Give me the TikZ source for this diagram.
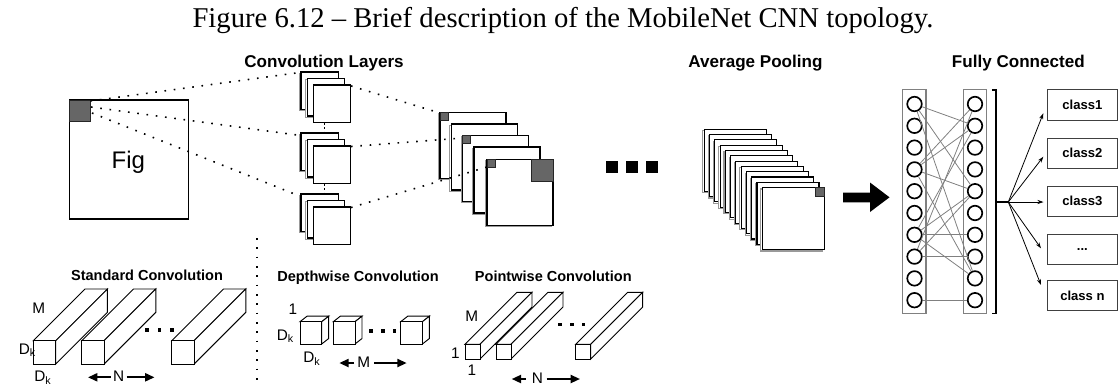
\documentclass[tikz,border=0pt]{standalone}
\usepackage{fontspec}
\setmainfont{Liberation Serif}
\setsansfont{Liberation Sans}
\usetikzlibrary{arrows.meta,calc}

% one picture unit = one pixel, y grows downwards
\tikzset{
  caption/.style={font=\fontsize{21.5}{24}\selectfont, anchor=base, inner sep=0pt},
  head/.style={font=\sffamily\bfseries\fontsize{12.8}{14}\selectfont, anchor=base, inner sep=0pt},
  subhead/.style={font=\sffamily\bfseries\fontsize{10.9}{12}\selectfont, anchor=base, inner sep=0pt},
  dimlabel/.style={font=\sffamily\fontsize{11.5}{12}\selectfont, anchor=base, inner sep=0pt},
  sheetline/.style={draw=black, fill=white, line width=0.8pt},
  sheetshade/.style={draw=black!40, fill=white, line width=0.8pt},
  patch/.style={draw=black!85, fill=black!60, line width=0.7pt},
  dotline/.style={line width=1.2pt, dash pattern=on 1.2pt off 5.8pt},
  tightdots/.style={line width=1.2pt, dash pattern=on 1.2pt off 2pt},
  prismline/.style={draw=black, fill=white, line width=0.7pt},
  dimarrow/.style={line width=1.5pt, -{Triangle[length=7pt,width=6pt]}},
  neuron/.style={circle, draw=black, fill=white, line width=1.25pt, minimum size=10.9pt, inner sep=0pt},
  column/.style={draw=black!50, line width=0.9pt},
  fcline/.style={draw=black!50, line width=0.6pt},
  classbox/.style={draw=black!75, line width=0.8pt, minimum width=52.6pt, minimum height=22.9pt, inner sep=0pt,
    font=\sffamily\bfseries\fontsize{9.8}{11}\selectfont},
  outarrow/.style={line width=0.6pt, -{Stealth[length=4.5pt,width=3pt]}},
  blockdot/.style={fill=black},
}

% feature map sheet with a light shade line: #1=x, #2=y (top left), #3=size
\newcommand\drawsheet[3]{%
  \draw[sheetshade] (#1-1.4,#2+1.4) rectangle ++(#3,#3);
  \draw[sheetline] (#1,#2) rectangle ++(#3,#3);
}
% box seen in oblique view: #1,#2 = front top left, #3,#4 = front size, #5,#6 = depth
\newcommand\drawprism[6]{%
  \filldraw[prismline] (#1,#2) -- ++(#5,#6) -- ++(#3,0) -- (#1+#3,#2) -- cycle;
  \filldraw[prismline] (#1+#3,#2) -- ++(#5,#6) -- ++(0,#4) -- (#1+#3,#2+#4) -- cycle;
  \filldraw[prismline] (#1,#2) rectangle ++(#3,#4);
}

\begin{document}
\begin{tikzpicture}[x=0.75pt, y=-0.75pt]
\useasboundingbox (0,0) rectangle (1120,387);

% caption
\node[caption] (title) at (563,27) {Figure 6.12 -- Brief description of the MobileNet CNN topology.};

% headings
\node[head] (hconv) at (324,67.3) {Convolution Layers};
\node[head] (hpool) at (755.5,67) {Average Pooling};
\node[head] (hfc) at (1018.3,67) {Fully Connected};

% input image
\draw[sheetline] (69.3,100) rectangle (188.3,219);
\draw[patch] (69.3,100) rectangle (90.5,121.5);
\node[dimlabel, font=\sffamily\fontsize{18}{20}\selectfont] (figtext) at (128.3,168.3) {Fig};

% three stacks of convolution filters
\foreach \k in {0,1,2}{
  \drawsheet{301}{72+61*\k}{37.5}
  \drawsheet{307.2}{78.5+61*\k}{37.5}
  \draw[sheetline] (313.3,85+61*\k) rectangle ++(37.5,37.5);
}
\coordinate (s1in) at (296,73);
\coordinate (s2in) at (297,135);
\coordinate (s3in) at (297,195);
\coordinate (s1out) at (351,86);
\coordinate (s2out) at (351,146.5);
\coordinate (s3out) at (351,207.5);
\draw[tightdots] (324.3,123) -- (324.3,133);
\draw[tightdots] (324.3,184) -- (324.3,194);

% dotted rays from the input patch
\coordinate (p1) at (90.5,101);
\coordinate (p2) at (91,107);
\coordinate (p3) at (92,113);
\draw[dotline] (p1) -- (s1in);
\draw[dotline] (p2) -- (s2in);
\draw[dotline] (p3) -- (s3in);

% feature maps after convolution
\drawsheet{440}{112.3}{66}
\draw[patch] (440,112.3) rectangle ++(8,8);
\drawsheet{451.3}{124}{66}
\drawsheet{462.5}{135.5}{66}
\draw[patch] (462.5,135.5) rectangle ++(8,8);
\drawsheet{474}{147}{66}
\drawsheet{487}{159.3}{66}
\draw[patch] (487,159.3) rectangle ++(8,8);
\draw[patch] (531,159.3) rectangle ++(22,22);
\coordinate (m1) at (440,113);
\coordinate (m3) at (462.5,138);
\coordinate (m5) at (487,167);
\draw[dotline] (s1out) -- (m1);
\draw[dotline] (s2out) -- (m3);
\draw[dotline] (s3out) -- (m5);

% continuation blocks
\foreach \x in {606,626,646}{
  \fill[blockdot] (\x,161) rectangle ++(12,12);
}

% average pooling stack
\foreach \i in {0,...,11}{
  \drawsheet{704.3+5.27*\i}{129.3+5.3*\i}{62}
}
\draw[patch] (815.3,187.6) rectangle ++(9,9);

% heavy arrow
\fill (843,192.5) -- (870,192.5) -- (870,182.5) -- (889.5,197.3) -- (870,212) -- (870,202.3) -- (843,202.3) -- cycle;

% fully connected layers
\draw[column] (902.7,89.3) rectangle (926,313.3);
\draw[column] (963.3,89.3) rectangle (986.7,313.3);
\foreach \i in {0,...,9}{
  \node[neuron] (L\i) at (914.5,104+21.8*\i) {};
  \node[neuron] (R\i) at (975,104+21.8*\i) {};
}
\foreach \a/\b in {0/1,0/4,0/8,3/0,3/1,3/4,3/8,6/1,6/4,6/6,6/8,7/0,7/4,7/7,9/9}{
  \draw[fcline] (L\a) -- (R\b);
}

% output bracket and classes
\draw[line width=0.8pt] (991.8,90) -- (996,90) -- (996,313.3) -- (991.8,313.3);
\coordinate (fan) at (1008.3,202);
\draw[line width=0.8pt] (996,202) -- (fan);
\node[classbox] (c1) at (1082.4,105.2) {class1};
\node[classbox] (c2) at (1082.4,153.3) {class2};
\node[classbox] (c3) at (1082.4,201.3) {class3};
\node[classbox] (c4) at (1082.4,249.5) {...};
\node[classbox] (c5) at (1082.4,295.5) {class n};
\coordinate (t1) at (1043.3,113.3);
\coordinate (t2) at (1043.3,156.7);
\coordinate (t3) at (1043.5,202);
\coordinate (t4) at (1041,248.3);
\coordinate (t5) at (1041,285);
\foreach \t in {t1,t2,t3,t4,t5}{
  \draw[outarrow] (fan) -- (\t);
}

% separator
\draw[dotline] (257,238) -- (257,387);

% standard convolution
\node[subhead] (hstd) at (147,280.5) {Standard Convolution};
\drawprism{33.3}{340.7}{22.4}{23.3}{51.7}{-51.7}
\drawprism{81.7}{340.7}{22.4}{23.3}{51.7}{-51.7}
\drawprism{171.7}{340.7}{22.4}{23.3}{51.7}{-51.7}
\foreach \x in {146.7,159.3,171.7}{
  \fill[blockdot] (\x-1.7,328.3) rectangle ++(3.5,3.5);
}
\node[dimlabel] (stdM) at (38.8,313.3) {M};
\node[dimlabel, anchor=base west] (stdDk1) at (18.5,354) {D\textsubscript{k}};
\node[dimlabel, anchor=base west] (stdDk2) at (34,381.7) {D\textsubscript{k}};
\node[dimlabel] (stdN) at (118.7,381.7) {N};
\draw[dimarrow] (110.5,377.3) -- (88,377.3);
\draw[dimarrow] (126.5,377.3) -- (154.5,377.3);

% depthwise convolution
\node[subhead] (hdw) at (358,281) {Depthwise Convolution};
\drawprism{300}{321.7}{21.7}{22.3}{7}{-5.5}
\drawprism{333.3}{321.7}{21.7}{22.3}{7}{-5.5}
\drawprism{400.7}{321.7}{21.7}{22.3}{7}{-5.5}
\foreach \x in {371,382.7,394.3}{
  \fill[blockdot] (\x-1.7,329) rectangle ++(3.5,3.5);
}
\node[dimlabel] (dwOne) at (293,314.3) {1};
\node[dimlabel, anchor=base west] (dwDk1) at (276.5,340) {D\textsubscript{k}};
\node[dimlabel, anchor=base west] (dwDk2) at (303,362.7) {D\textsubscript{k}};
\node[dimlabel] (dwM) at (363.7,367.7) {M};
\draw[dimarrow] (354,363) -- (339.3,363);
\draw[dimarrow] (374,363) -- (406.7,363);

% pointwise convolution
\node[subhead] (hpw) at (553.3,281) {Pointwise Convolution};
\drawprism{465}{344.3}{15}{14.7}{52}{-52}
\drawprism{496}{344.3}{15}{14.7}{52}{-52}
\drawprism{575.7}{344.3}{15}{14.7}{52}{-52}
\foreach \x in {560,571.7,583.3}{
  \fill[blockdot] (\x-1.7,322.6) rectangle ++(3.5,3.5);
}
\node[dimlabel] (pwM) at (471.7,321.7) {M};
\node[dimlabel] (pwOne1) at (455.3,358.3) {1};
\node[dimlabel] (pwOne2) at (472,375) {1};
\node[dimlabel] (pwN) at (537.5,383.3) {N};
\draw[dimarrow] (525.5,379) -- (511.7,379);
\draw[dimarrow] (546.7,379) -- (580,379);
\end{tikzpicture}
\end{document}
